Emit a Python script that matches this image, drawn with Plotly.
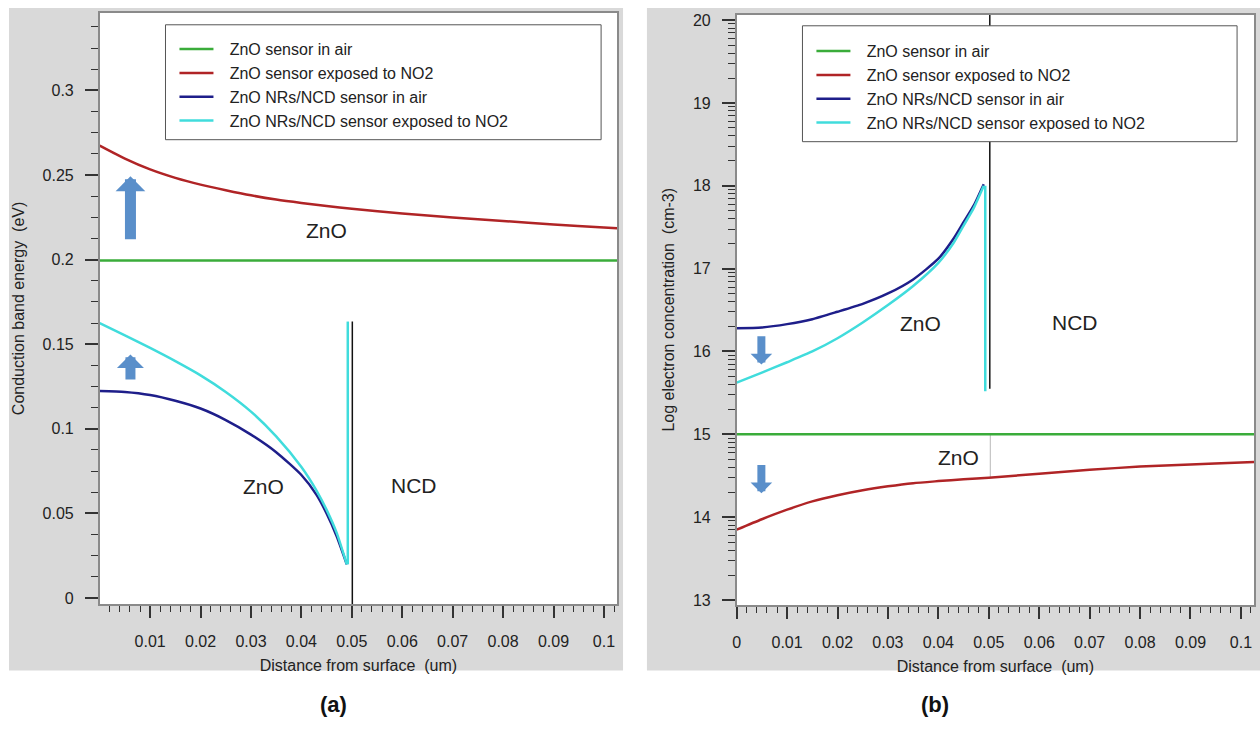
import plotly.graph_objects as go

W, H = 1260, 740

# ---------------- data ----------------
series_names = ["ZnO sensor in air", "ZnO sensor exposed to NO2",
                "ZnO NRs/NCD sensor in air", "ZnO NRs/NCD sensor exposed to NO2"]
series_colors = ["#3aac3a", "#b02426", "#1e1e8a", "#40dcdc"]

# Panel (a): conduction band energy (eV)
a_green_x = [0.0, 0.1026]
a_green_y = [0.1995, 0.1995]

a_red_x = [0, 0.005, 0.01, 0.015, 0.02, 0.025, 0.03, 0.035, 0.04, 0.045, 0.05,
           0.06, 0.07, 0.08, 0.09, 0.1, 0.1026]
a_red_y = [0.2674, 0.2597, 0.2533, 0.2483, 0.2443, 0.2410, 0.2380, 0.2355, 0.2335,
           0.2317, 0.2300, 0.2272, 0.2249, 0.2228, 0.2208, 0.2190, 0.2186]

a_zno_x = [0, 0.005, 0.01, 0.015, 0.02, 0.025, 0.03, 0.035, 0.04, 0.043, 0.045, 0.047, 0.049]
a_navy_y = [0.1224, 0.1218, 0.1200, 0.1166, 0.1120, 0.1052, 0.0966, 0.0862, 0.0727,
            0.0610, 0.0500, 0.0365, 0.0199]
a_cyan_y = [0.1624, 0.1553, 0.1478, 0.1400, 0.1316, 0.1218, 0.1102, 0.0955, 0.0774,
            0.0635, 0.0521, 0.0385, 0.0199]
a_cyan_jump_x = [0.0492, 0.0492]
a_cyan_jump_y = [0.0199, 0.1634]
a_interface_x = [0.0501, 0.0501]
a_interface_y = [-0.0035, 0.1634]

# Panel (b): log electron concentration (cm-3)
b_green_x = [0.0, 0.1026]
b_green_y = [15.0, 15.0]

b_red_x = a_red_x
b_red_y = [13.849, 13.975, 14.090, 14.190, 14.265, 14.325, 14.372, 14.410, 14.435,
           14.458, 14.476, 14.525, 14.572, 14.610, 14.635, 14.660, 14.667]

b_zno_x = a_zno_x
b_navy_y = [16.281, 16.290, 16.330, 16.390, 16.480, 16.575, 16.700, 16.870, 17.120,
            17.360, 17.560, 17.760, 18.020]
b_cyan_y = [15.624, 15.745, 15.870, 16.000, 16.160, 16.350, 16.560, 16.790, 17.070,
            17.310, 17.520, 17.730, 18.000]
b_cyan_jump_x = [0.0493, 0.0493]
b_cyan_jump_y = [18.0, 15.52]
b_interface_x = [0.0502, 0.0502]
b_interface_y = [20.067, 15.55]
b_faint_x = [0.0503, 0.0503]
b_faint_y = [15.0, 14.476]

a_ytick_vals = [0, 0.05, 0.1, 0.15, 0.2, 0.25, 0.3]
a_ytick_text = ["0", "0.05", "0.1", "0.15", "0.2", "0.25", "0.3"]
a_xtick_vals = [0.01, 0.02, 0.03, 0.04, 0.05, 0.06, 0.07, 0.08, 0.09, 0.1]
a_xtick_text = ["0.01", "0.02", "0.03", "0.04", "0.05", "0.06", "0.07", "0.08", "0.09", "0.1"]
b_xtick_vals = [0] + a_xtick_vals
b_xtick_text = ["0"] + a_xtick_text
b_ytick_vals = [13, 14, 15, 16, 17, 18, 19, 20]
b_ytick_text = ["13", "14", "15", "16", "17", "18", "19", "20"]

# ---------------- helpers for layout (pixel -> paper) ----------------
def fx(px):
    return px / W

def fy(py):
    return 1 - py / H

FONT = "Arial, Liberation Sans, sans-serif"
TXT = "#222222"
TICKC = "#333333"
FRAME = "#8a8a8a"
PAD = "\u2002\u2009"   # gap between legend sample and its text

fig = go.Figure()

def add_line(x, y, color, name, xa, ya, legend, show=True, width=2.5):
    fig.add_trace(go.Scatter(
        x=x, y=y, mode="lines", name=(PAD + name) if show else name, xaxis=xa, yaxis=ya,
        line=dict(color=color, width=width, shape="spline", smoothing=0.6),
        showlegend=show, legend=legend, hoverinfo="skip"))

# panel (a)
add_line(a_green_x, a_green_y, series_colors[0], series_names[0], "x", "y", "legend")
add_line(a_red_x, a_red_y, series_colors[1], series_names[1], "x", "y", "legend")
add_line(a_zno_x, a_navy_y, series_colors[2], series_names[2], "x", "y", "legend")
add_line(a_zno_x, a_cyan_y, series_colors[3], series_names[3], "x", "y", "legend")
add_line(a_cyan_jump_x, a_cyan_jump_y, series_colors[3], "", "x", "y", "legend", show=False)
add_line(a_interface_x, a_interface_y, "#111111", "", "x", "y", "legend", show=False, width=1.5)

# panel (b)
add_line(b_faint_x, b_faint_y, "#b8b8b8", "", "x2", "y2", "legend2", show=False, width=1)
add_line(b_green_x, b_green_y, series_colors[0], series_names[0], "x2", "y2", "legend2")
add_line(b_red_x, b_red_y, series_colors[1], series_names[1], "x2", "y2", "legend2")
add_line(b_zno_x, b_navy_y, series_colors[2], series_names[2], "x2", "y2", "legend2")
add_line(b_zno_x, b_cyan_y, series_colors[3], series_names[3], "x2", "y2", "legend2")
add_line(b_cyan_jump_x, b_cyan_jump_y, series_colors[3], "", "x2", "y2", "legend2", show=False)
add_line(b_interface_x, b_interface_y, "#111111", "", "x2", "y2", "legend2", show=False, width=1.5)

axis_common = dict(
    showline=True, linecolor=FRAME, linewidth=1.5, mirror=True,
    ticks="outside", tickcolor=TICKC, tickwidth=1.5,
    showgrid=False, zeroline=False,
    tickfont=dict(family=FONT, size=16, color=TXT),
    title_font=dict(family=FONT, size=16, color=TXT),
)

a_xminor = [round(0.002 * i, 4) for i in range(1, 52) if i % 5 != 0]
a_yminor = [round(0.0125 * i, 4) for i in range(1, 28) if i % 4 != 0]
b_xminor = a_xminor
b_yminor = [d + lv for d in range(13, 20) for lv in
            [0.30103, 0.47712, 0.60206, 0.69897, 0.77815, 0.84510, 0.90309, 0.95424]]

A_DOM_X = [fx(96), fx(615)]
A_DOM_Y = [fy(606.7), fy(10)]
B_DOM_X = [fx(735), fx(1254)]
B_DOM_Y = [fy(607.7), fy(11.7)]

fig.update_layout(
    width=W, height=H,
    margin=dict(l=0, r=0, t=0, b=0),
    paper_bgcolor="white", plot_bgcolor="white",
    font=dict(family=FONT, color=TXT),
    xaxis=dict(axis_common, domain=A_DOM_X, range=[0, 0.1026],
               tickmode="array", tickvals=a_xtick_vals, ticktext=a_xtick_text,
               ticklen=12, ticklabelstandoff=10,
               minor=dict(tickmode="array", tickvals=a_xminor, ticks="outside",
                          ticklen=6, tickcolor=TICKC, tickwidth=1.2),
               title=dict(text="Distance from surface  (um)", standoff=11),
               anchor="y"),
    yaxis=dict(axis_common, domain=A_DOM_Y, range=[-0.0035, 0.3458],
               tickmode="array", tickvals=a_ytick_vals, ticktext=a_ytick_text,
               ticklen=13, ticklabelstandoff=8,
               minor=dict(tickmode="array", tickvals=a_yminor, ticks="outside",
                          ticklen=7, tickcolor=TICKC, tickwidth=1.2),
               title=dict(text="Conduction band energy  (eV)", standoff=14),
               anchor="x"),
    xaxis2=dict(axis_common, domain=B_DOM_X, range=[0, 0.1026],
                tickmode="array", tickvals=b_xtick_vals, ticktext=b_xtick_text,
                ticklen=12, ticklabelstandoff=10,
                minor=dict(tickmode="array", tickvals=b_xminor, ticks="outside",
                           ticklen=6, tickcolor=TICKC, tickwidth=1.2),
                title=dict(text="Distance from surface  (um)", standoff=11),
                anchor="y2"),
    yaxis2=dict(axis_common, domain=B_DOM_Y, range=[12.94, 20.067],
                tickmode="array", tickvals=b_ytick_vals, ticktext=b_ytick_text,
                ticklen=13, ticklabelstandoff=8,
                minor=dict(tickmode="array", tickvals=b_yminor, ticks="outside",
                           ticklen=7, tickcolor=TICKC, tickwidth=1.0),
                title=dict(text="Log electron concentration  (cm-3)", standoff=14),
                anchor="x2"),
    legend=dict(x=fx(171), y=fy(83), xanchor="left", yanchor="middle",
                bgcolor="rgba(0,0,0,0)", borderwidth=0, itemwidth=34,
                font=dict(family=FONT, size=16, color=TXT), tracegroupgap=0),
    legend2=dict(x=fx(810), y=fy(85), xanchor="left", yanchor="middle",
                 bgcolor="rgba(0,0,0,0)", borderwidth=0, itemwidth=34,
                 font=dict(family=FONT, size=16, color=TXT), tracegroupgap=0),
    showlegend=True,
)

shapes = [
    dict(type="rect", xref="paper", yref="paper", x0=fx(5), x1=fx(621), y0=fy(674), y1=fy(5),
         fillcolor="#d9d9d9", line=dict(width=0), layer="below"),
    dict(type="rect", xref="paper", yref="paper", x0=fx(645), x1=fx(1260), y0=fy(674), y1=fy(5),
         fillcolor="#d9d9d9", line=dict(width=0), layer="below"),
    dict(type="rect", xref="paper", yref="paper", x0=A_DOM_X[0], x1=A_DOM_X[1],
         y0=A_DOM_Y[0], y1=A_DOM_Y[1], fillcolor="white", line=dict(width=0), layer="below"),
    dict(type="rect", xref="paper", yref="paper", x0=B_DOM_X[0], x1=B_DOM_X[1],
         y0=B_DOM_Y[0], y1=B_DOM_Y[1], fillcolor="white", line=dict(width=0), layer="below"),
    dict(type="rect", xref="paper", yref="paper", x0=fx(162), x1=fx(599), y0=fy(138), y1=fy(22),
         fillcolor="white", line=dict(color="#555555", width=1), layer="above"),
    dict(type="rect", xref="paper", yref="paper", x0=fx(801), x1=fx(1237), y0=fy(140), y1=fy(23),
         fillcolor="white", line=dict(color="#555555", width=1), layer="above"),
]
fig.update_layout(shapes=shapes)

ARROW = "#5a8fca"
annotations = [
    # region labels
    dict(x=0.045, y=0.217, xref="x", yref="y", text="ZnO", showarrow=False,
         font=dict(family=FONT, size=21, color=TXT)),
    dict(x=0.0325, y=0.0658, xref="x", yref="y", text="ZnO", showarrow=False,
         font=dict(family=FONT, size=21, color=TXT)),
    dict(x=0.0624, y=0.0664, xref="x", yref="y", text="NCD", showarrow=False,
         font=dict(family=FONT, size=21, color=TXT)),
    dict(x=0.0365, y=16.34, xref="x2", yref="y2", text="ZnO", showarrow=False,
         font=dict(family=FONT, size=21, color=TXT)),
    dict(x=0.067, y=16.35, xref="x2", yref="y2", text="NCD", showarrow=False,
         font=dict(family=FONT, size=21, color=TXT)),
    dict(x=0.0439, y=14.718, xref="x2", yref="y2", text="ZnO", showarrow=False,
         font=dict(family=FONT, size=21, color=TXT)),
    # arrows
    dict(x=0.0061, y=0.2492, ax=0.0061, ay=0.2112, xref="x", yref="y", axref="x", ayref="y",
         text="", showarrow=True, arrowhead=1, arrowsize=0.45, arrowwidth=11, arrowcolor=ARROW),
    dict(x=0.0061, y=0.1439, ax=0.0061, ay=0.1282, xref="x", yref="y", axref="x", ayref="y",
         text="", showarrow=True, arrowhead=1, arrowsize=0.45, arrowwidth=10, arrowcolor=ARROW),
    dict(x=0.0049, y=15.842, ax=0.0049, ay=16.201, xref="x2", yref="y2", axref="x2", ayref="y2",
         text="", showarrow=True, arrowhead=1, arrowsize=0.45, arrowwidth=8, arrowcolor=ARROW),
    dict(x=0.0049, y=14.288, ax=0.0049, ay=14.647, xref="x2", yref="y2", axref="x2", ayref="y2",
         text="", showarrow=True, arrowhead=1, arrowsize=0.45, arrowwidth=8, arrowcolor=ARROW),
    # panel letters
    dict(x=fx(315), y=fy(723), xref="paper", yref="paper", text="<b>(a)</b>", showarrow=False,
         font=dict(family=FONT, size=22, color="#111111")),
    dict(x=fx(950), y=fy(723), xref="paper", yref="paper", text="<b>(b)</b>", showarrow=False,
         font=dict(family=FONT, size=22, color="#111111")),
]
fig.update_layout(annotations=annotations)

fig.write_html("out.html", config={"displayModeBar": False},
               post_script="document.body.style.margin='0';document.body.style.overflow='hidden';")
